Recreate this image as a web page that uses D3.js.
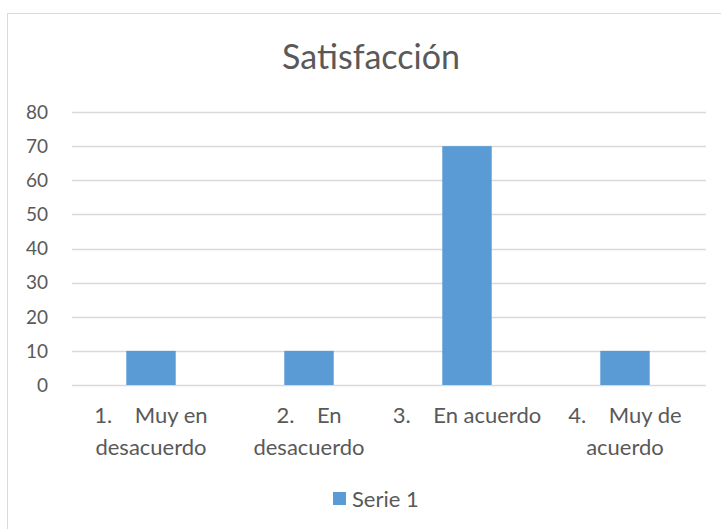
<!DOCTYPE html>
<html>
<head>
<meta charset="utf-8">
<script src="https://cdn.jsdelivr.net/npm/d3@7"></script>
<style>
  body { margin: 0; background: #fff; }
  text { font-family: Lato, "Open Sans", sans-serif; fill: #595959; }
</style>
</head>
<body>
<div id="main"></div>
<script>
const ctx = {
    CHART_WIDTH: 721,
    CHART_HEIGHT: 529,
    BAR_COLOR: "#5b9bd5",
    GRID_COLOR: "#d9d9d9"
};

// chart data
const categories = ["1.", "2.", "3.", "4."];
const labelLines = [
    ["1.    Muy en", "desacuerdo"],
    ["2.    En", "desacuerdo"],
    ["3.    En acuerdo"],
    ["4.    Muy de", "acuerdo"]
];
const values = [10, 10, 70, 10];
const yTicks = [0, 10, 20, 30, 40, 50, 60, 70, 80];
const seriesName = "Serie 1";
const title = "Satisfacción";

const margin = {top: 112, right: 15, bottom: 144, left: 72};
const width = ctx.CHART_WIDTH - margin.left - margin.right;
const height = ctx.CHART_HEIGHT - margin.top - margin.bottom;

function createViz() {
    let svgEl = d3.select("#main").append("svg")
        .attr("width", ctx.CHART_WIDTH)
        .attr("height", ctx.CHART_HEIGHT);

    // chart area border (cut off at right and bottom)
    svgEl.append("rect")
        .attr("x", 7.5).attr("y", 13.5)
        .attr("width", 730).attr("height", 530)
        .attr("fill", "none")
        .attr("stroke", ctx.GRID_COLOR);

    svgEl.append("text")
        .attr("x", 371).attr("y", 69)
        .attr("text-anchor", "middle")
        .style("font-size", "34px")
        .text(title);

    let g = svgEl.append("g")
        .attr("transform", `translate(${margin.left}, ${margin.top})`);

    let xScale = d3.scaleBand()
        .domain(categories)
        .range([0, width - 2])
        .paddingInner(0.687)
        .paddingOuter(0.3435);

    let yScale = d3.scaleLinear()
        .domain([0, 80])
        .range([height, 0]);

    // gridlines
    g.selectAll("line.grid")
        .data(yTicks)
        .enter()
        .append("line")
        .attr("class", "grid")
        .attr("x1", 0).attr("x2", width)
        .attr("y1", d => Math.round(yScale(d)) + 0.5)
        .attr("y2", d => Math.round(yScale(d)) + 0.5)
        .attr("stroke", ctx.GRID_COLOR)
        .attr("stroke-width", 1.5);

    // y tick labels
    g.selectAll("text.ytick")
        .data(yTicks)
        .enter()
        .append("text")
        .attr("class", "ytick")
        .attr("x", -24)
        .attr("y", d => yScale(d))
        .attr("dy", "0.36em")
        .attr("text-anchor", "end")
        .style("font-size", "19px")
        .text(d => d);

    // bars
    g.selectAll("rect.bar")
        .data(values)
        .enter()
        .append("rect")
        .attr("class", "bar")
        .attr("x", (d, i) => xScale(categories[i]))
        .attr("y", d => yScale(d))
        .attr("width", xScale.bandwidth())
        .attr("height", d => height - yScale(d))
        .attr("fill", ctx.BAR_COLOR);

    // category labels, wrapped on two lines
    categories.forEach((c, i) => {
        let cx = xScale(c) + xScale.bandwidth() / 2;
        let t = g.append("text")
            .attr("text-anchor", "middle")
            .attr("y", height + 38)
            .style("font-size", "22px")
            .style("white-space", "pre");
        labelLines[i].forEach((line, j) => {
            t.append("tspan")
                .attr("x", cx)
                .attr("dy", j == 0 ? 0 : 32)
                .text(line);
        });
    });

    // legend
    let lg = svgEl.append("g").attr("transform", "translate(333, 492)");
    lg.append("rect")
        .attr("width", 13).attr("height", 13)
        .attr("fill", ctx.BAR_COLOR);
    lg.append("text")
        .attr("x", 19).attr("y", 7)
        .attr("dy", "0.36em")
        .style("font-size", "22px")
        .text(seriesName);
}

createViz();
</script>
</body>
</html>
